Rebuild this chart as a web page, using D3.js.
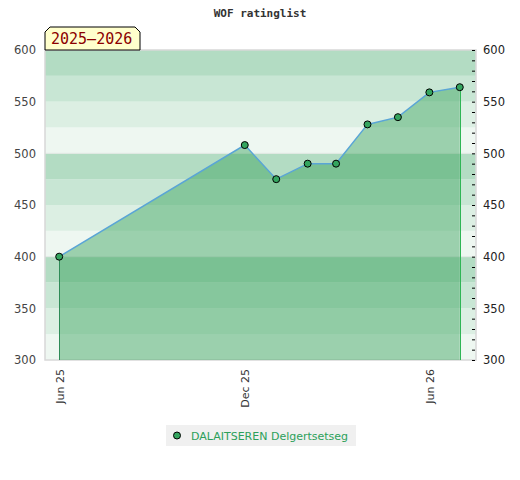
<!DOCTYPE html>
<html>
<head>
<meta charset="utf-8">
<script src="https://cdn.jsdelivr.net/npm/d3@7"></script>
<style>
  body { margin: 0; background: #fff; }
  svg { display: block; }
</style>
</head>
<body>
<svg id="chart" width="520" height="480"></svg>
<script>
// data
const dates = ["2025-06-01", "2025-12-01", "2026-01-01", "2026-02-01", "2026-03-01",
               "2026-04-01", "2026-05-01", "2026-06-01", "2026-07-01"];
const ratings = [400, 508, 475, 490, 490, 528, 535, 559, 564];
const xTickDates = ["2025-06-01", "2025-12-01", "2026-06-01"];
const xTickLabels = ["Jun 25", "Dec 25", "Jun 26"];
const yTicks = [300, 350, 400, 450, 500, 550, 600];
const playerName = "DALAITSEREN Delgertsetseg";
const seasonLabel = "2025\u20132026";
const chartTitle = "WOF ratinglist";

const parse = d3.timeParse("%Y-%m-%d");
let plotData = dates.map(function(d, i){ return {date: parse(d), rating: ratings[i]}; });

var margin = { top: 50, right: 44, bottom: 120, left: 45 },
	width = 520 - margin.left - margin.right,
	height = 480 - margin.top - margin.bottom;

let x = d3.scaleTime()
	.domain([parse("2025-05-18"), parse("2026-07-17")])
	.range([0, width]);
let y = d3.scaleLinear()
	.domain([300, 600])
	.range([height, 0]);

let svg = d3.select("#chart");

//title
svg.append("text")
	.attr("x", 260).attr("y", 17)
	.attr("text-anchor", "middle")
	.style("font-family", "'DejaVu Sans Mono', monospace")
	.style("font-size", "11px")
	.style("font-weight", "bold")
	.style("fill", "#333")
	.text(chartTitle);

let g = svg.append("g")
	.attr("transform", "translate(" + margin.left + "," + margin.top + ")");

//background bands, 25 points each, shade cycles every 100
let bandColors = ["#eef7f1", "#dcefe3", "#c8e6d4", "#b3dcc3"];
let bands = d3.range(300, 600, 25);
g.append("g").selectAll("rect")
	.data(bands)
	.enter()
	.append("rect")
	.attr("x", 0)
	.attr("width", width)
	.attr("y", function(d){ return y(d + 25); })
	.attr("height", function(d){ return y(d) - y(d + 25); })
	.style("fill", function(d){ return bandColors[((d - 300) / 25) % 4]; });

//gridlines at the hundreds
g.append("g").selectAll("line")
	.data([400, 500])
	.enter()
	.append("line")
	.attr("x1", 0).attr("x2", width)
	.attr("y1", function(d){ return y(d); })
	.attr("y2", function(d){ return y(d); })
	.style("stroke", "#e2e8e4")
	.style("stroke-width", 1);

//plot border
g.append("rect")
	.attr("x", 0).attr("y", 0)
	.attr("width", width).attr("height", height)
	.style("fill", "none")
	.style("stroke", "#d8d8d8")
	.style("stroke-width", 1.5);

//area under the rating line
let area = d3.area()
	.x(function(d){ return x(d.date); })
	.y0(height)
	.y1(function(d){ return y(d.rating); });
g.append("path")
	.datum(plotData)
	.attr("d", area)
	.style("fill", "rgba(49,160,86,0.44)");

//vertical edges
let first = plotData[0], last = plotData[plotData.length - 1];
g.append("line")
	.attr("x1", Math.round(x(first.date)) + 0.5).attr("x2", Math.round(x(first.date)) + 0.5)
	.attr("y1", y(first.rating)).attr("y2", height)
	.style("stroke", "#2e8b57").style("stroke-width", 1);
g.append("line")
	.attr("x1", Math.round(x(last.date)) + 0.5).attr("x2", Math.round(x(last.date)) + 0.5)
	.attr("y1", y(last.rating)).attr("y2", height)
	.style("stroke", "#2fb555").style("stroke-width", 1);

//line
let line = d3.line()
	.x(function(d){ return x(d.date); })
	.y(function(d){ return y(d.rating); });
g.append("path")
	.datum(plotData)
	.attr("d", line)
	.style("fill", "none")
	.style("stroke", "#5aa5d6")
	.style("stroke-width", 1.5);

//points
g.append("g").selectAll("circle")
	.data(plotData)
	.enter()
	.append("circle")
	.attr("cx", function(d){ return x(d.date); })
	.attr("cy", function(d){ return y(d.rating); })
	.attr("r", 3.5)
	.style("fill", "#34a55f")
	.style("stroke", "#000")
	.style("stroke-width", 1);

//left y axis
let yLeft = g.append("g")
	.call(d3.axisLeft(y).tickValues(yTicks).tickSize(0).tickPadding(9));
yLeft.select(".domain").remove();
yLeft.selectAll("text")
	.style("font-family", "'DejaVu Sans', sans-serif")
	.style("font-size", "11.5px")
	.style("fill", "#444");

//right y axis with minor ticks
let yRight = g.append("g")
	.attr("transform", "translate(" + width + ",0)")
	.call(d3.axisRight(y).tickValues(yTicks).tickSize(0).tickPadding(7));
yRight.select(".domain").remove();
yRight.selectAll("text")
	.style("font-family", "'DejaVu Sans', sans-serif")
	.style("font-size", "11.5px")
	.style("fill", "#222");
g.append("g").selectAll("line")
	.data(d3.range(300, 601, 10))
	.enter()
	.append("line")
	.attr("x1", -4).attr("x2", -1)
	.attr("y1", function(d){ return y(d) + 0.5; })
	.attr("y2", function(d){ return y(d) + 0.5; })
	.attr("transform", "translate(" + width + ",0)")
	.style("stroke", "#000")
	.style("stroke-width", 1);

//x axis, rotated labels
let xAxis = g.append("g")
	.attr("transform", "translate(0," + height + ")")
	.call(d3.axisBottom(x)
		.tickValues(xTickDates.map(parse))
		.tickFormat(function(d, i){ return xTickLabels[i]; })
		.tickSize(0));
xAxis.select(".domain").remove();
xAxis.selectAll("text")
	.attr("transform", "rotate(-90)")
	.attr("x", -9).attr("y", 0).attr("dy", "0.35em")
	.style("text-anchor", "end")
	.style("font-family", "'DejaVu Sans', sans-serif")
	.style("font-size", "11px")
	.style("fill", "#333");

//season label box with chamfered top corners
let bx = 0, by = -23, bw = 95, bh = 23, c = 5;
g.append("path")
	.attr("d", "M" + bx + "," + (by + bh) + "L" + bx + "," + (by + c) + "L" + (bx + c) + "," + by +
		"L" + (bx + bw - c) + "," + by + "L" + (bx + bw) + "," + (by + c) + "L" + (bx + bw) + "," + (by + bh) + "Z")
	.style("fill", "#ffffcc")
	.style("stroke", "#000")
	.style("stroke-width", 1);
g.append("text")
	.attr("x", bx + 6).attr("y", by + 17)
	.style("font-family", "'DejaVu Sans Mono', monospace")
	.style("font-size", "15px")
	.style("fill", "#8b0000")
	.text(seasonLabel);

//legend
let legend = svg.append("g").attr("transform", "translate(166,425)");
legend.append("rect")
	.attr("width", 190).attr("height", 21)
	.style("fill", "#f0f0f0");
legend.append("circle")
	.attr("cx", 11).attr("cy", 10.5).attr("r", 3.5)
	.style("fill", "#34a55f").style("stroke", "#000").style("stroke-width", 1);
legend.append("text")
	.attr("x", 25).attr("y", 15)
	.style("font-family", "'DejaVu Sans', sans-serif")
	.style("font-size", "11px")
	.style("fill", "#2ca05a")
	.text(playerName);
</script>
</body>
</html>
